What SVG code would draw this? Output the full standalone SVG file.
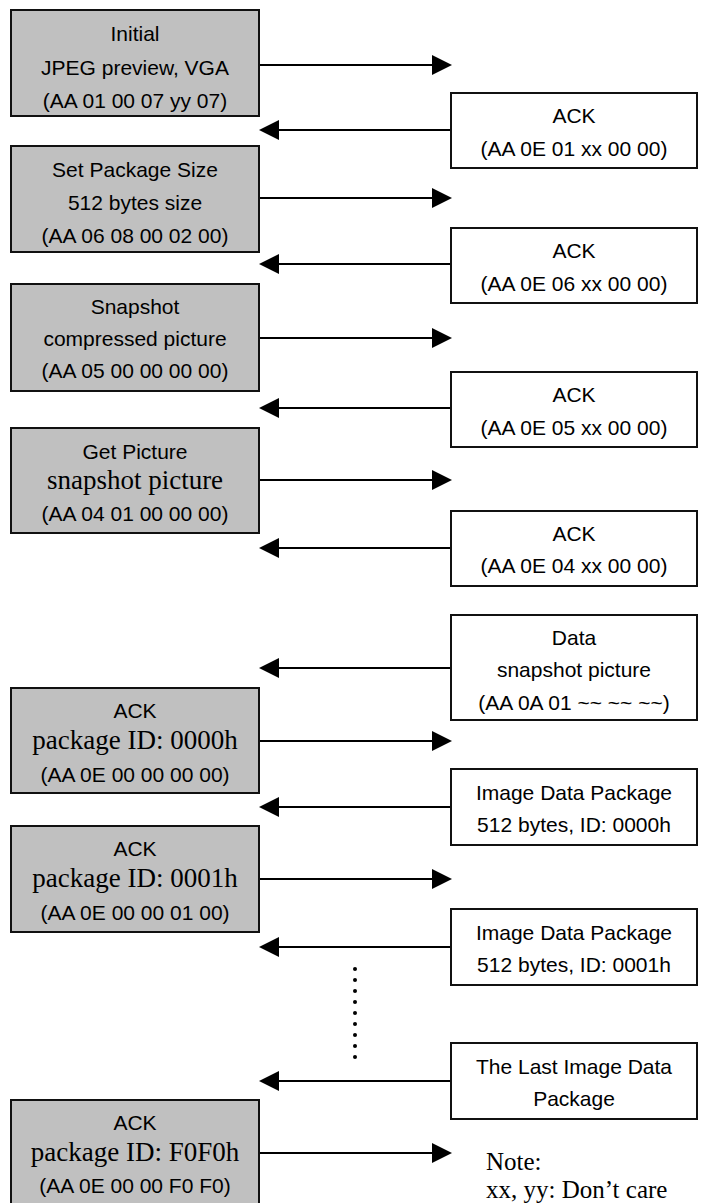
<svg xmlns="http://www.w3.org/2000/svg" width="704" height="1203" viewBox="0 0 704 1203">
<style>
.l{fill:#c0c0c0;stroke:#111;stroke-width:2}
.r{fill:#fff;stroke:#111;stroke-width:2}
.s{font-family:"Liberation Sans",Arial,sans-serif;font-size:21px;fill:#000;text-anchor:middle}
.t{font-family:"Liberation Serif","Times New Roman",serif;font-size:27px;fill:#000;text-anchor:middle}
.n{font-family:"Liberation Serif","Times New Roman",serif;font-size:25px;fill:#000}
.c{stroke:#000;stroke-width:2;fill:none;marker-end:url(#ah)}
</style>
<defs>
<marker id="ah" markerUnits="userSpaceOnUse" markerWidth="20" markerHeight="20" refX="0" refY="10" orient="auto" viewBox="0 0 20 20">
<path d="M0,0 L20,10 L0,20 z" fill="#000"/>
</marker>
</defs>
<rect width="704" height="1203" fill="#fff"/>

<g id="initial">
<rect class="l" x="11" y="10" width="248" height="106"/>
<text class="s" x="135" y="41">Initial</text>
<text class="s" x="135" y="75">JPEG preview, VGA</text>
<text class="s" x="135" y="108">(AA 01 00 07 yy 07)</text>
</g>
<g id="ack1">
<rect class="r" x="451" y="93" width="246" height="75"/>
<text class="s" x="574" y="123">ACK</text>
<text class="s" x="574" y="156">(AA 0E 01 xx 00 00)</text>
</g>
<g id="setpkg">
<rect class="l" x="11" y="146" width="248" height="106"/>
<text class="s" x="135" y="177">Set Package Size</text>
<text class="s" x="135" y="210">512 bytes size</text>
<text class="s" x="135" y="243">(AA 06 08 00 02 00)</text>
</g>
<g id="ack2">
<rect class="r" x="451" y="228" width="246" height="75"/>
<text class="s" x="574" y="258">ACK</text>
<text class="s" x="574" y="291">(AA 0E 06 xx 00 00)</text>
</g>
<g id="snapshot">
<rect class="l" x="11" y="284" width="248" height="107"/>
<text class="s" x="135" y="314">Snapshot</text>
<text class="s" x="135" y="346">compressed picture</text>
<text class="s" x="135" y="378">(AA 05 00 00 00 00)</text>
</g>
<g id="ack3">
<rect class="r" x="451" y="372" width="246" height="75"/>
<text class="s" x="574" y="402">ACK</text>
<text class="s" x="574" y="435">(AA 0E 05 xx 00 00)</text>
</g>
<g id="getpic">
<rect class="l" x="11" y="428" width="248" height="105"/>
<text class="s" x="135" y="459">Get Picture</text>
<text class="t" x="135" y="489">snapshot picture</text>
<text class="s" x="135" y="521">(AA 04 01 00 00 00)</text>
</g>
<g id="ack4">
<rect class="r" x="451" y="511" width="246" height="75"/>
<text class="s" x="574" y="541">ACK</text>
<text class="s" x="574" y="573">(AA 0E 04 xx 00 00)</text>
</g>
<g id="data">
<rect class="r" x="451" y="615" width="246" height="105"/>
<text class="s" x="574" y="645">Data</text>
<text class="s" x="574" y="677">snapshot picture</text>
<text class="s" x="574" y="710">(AA 0A 01 ~~ ~~ ~~)</text>
</g>
<g id="ack0000">
<rect class="l" x="11" y="688" width="248" height="105"/>
<text class="s" x="135" y="718">ACK</text>
<text class="t" x="135" y="749">package ID: 0000h</text>
<text class="s" x="135" y="782">(AA 0E 00 00 00 00)</text>
</g>
<g id="idp0">
<rect class="r" x="451" y="769" width="246" height="76"/>
<text class="s" x="574" y="800">Image Data Package</text>
<text class="s" x="574" y="832">512 bytes, ID: 0000h</text>
</g>
<g id="ack0001">
<rect class="l" x="11" y="826" width="248" height="106"/>
<text class="s" x="135" y="856">ACK</text>
<text class="t" x="135" y="887">package ID: 0001h</text>
<text class="s" x="135" y="920">(AA 0E 00 00 01 00)</text>
</g>
<g id="idp1">
<rect class="r" x="451" y="909" width="246" height="76"/>
<text class="s" x="574" y="940">Image Data Package</text>
<text class="s" x="574" y="972">512 bytes, ID: 0001h</text>
</g>
<g id="dots" fill="#000">
<circle cx="355" cy="969" r="2"/>
<circle cx="355" cy="980" r="2"/>
<circle cx="355" cy="991" r="2"/>
<circle cx="355" cy="1002" r="2"/>
<circle cx="355" cy="1013" r="2"/>
<circle cx="355" cy="1024" r="2"/>
<circle cx="355" cy="1035" r="2"/>
<circle cx="355" cy="1046" r="2"/>
<circle cx="355" cy="1057" r="2"/>
</g>
<g id="lastpkg">
<rect class="r" x="451" y="1043" width="246" height="76"/>
<text class="s" x="574" y="1074">The Last Image Data</text>
<text class="s" x="574" y="1106">Package</text>
</g>
<g id="ackF0F0">
<rect class="l" x="11" y="1100" width="248" height="110"/>
<text class="s" x="135" y="1130">ACK</text>
<text class="t" x="135" y="1161">package ID: F0F0h</text>
<text class="s" x="135" y="1193">(AA 0E 00 00 F0 F0)</text>
</g>
<g id="note">
<text class="n" x="486" y="1170">Note:</text>
<text class="n" x="486" y="1198">xx, yy: Don’t care</text>
</g>

<g id="connectors">
<line class="c" x1="260" y1="65" x2="432" y2="65"/>
<line class="c" x1="450" y1="130" x2="279" y2="130"/>
<line class="c" x1="260" y1="198" x2="432" y2="198"/>
<line class="c" x1="450" y1="264" x2="279" y2="264"/>
<line class="c" x1="260" y1="338" x2="432" y2="338"/>
<line class="c" x1="450" y1="408" x2="279" y2="408"/>
<line class="c" x1="260" y1="480" x2="432" y2="480"/>
<line class="c" x1="450" y1="548" x2="279" y2="548"/>
<line class="c" x1="450" y1="668" x2="279" y2="668"/>
<line class="c" x1="260" y1="741" x2="432" y2="741"/>
<line class="c" x1="450" y1="807" x2="279" y2="807"/>
<line class="c" x1="260" y1="879" x2="432" y2="879"/>
<line class="c" x1="450" y1="947" x2="279" y2="947"/>
<line class="c" x1="450" y1="1081" x2="279" y2="1081"/>
<line class="c" x1="260" y1="1153" x2="432" y2="1153"/>
</g>
</svg>
